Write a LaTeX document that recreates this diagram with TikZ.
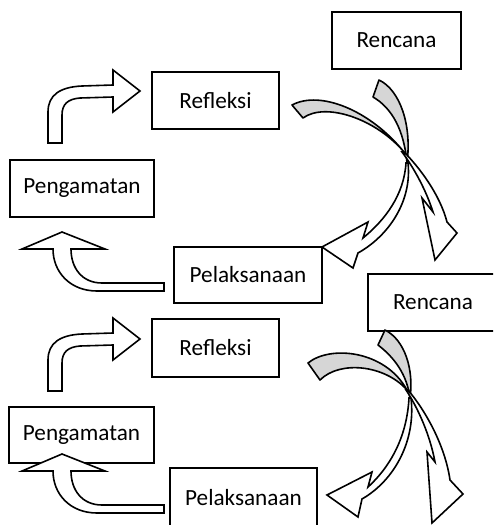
\documentclass[tikz,border=0pt]{standalone}
\usepackage{fontspec}
\setmainfont{Carlito}
\tikzset{
  boxnode/.style={draw, line width=0.95pt, rectangle, inner sep=0pt,
    font=\fontsize{11.6}{13}\selectfont, fill=white},
  blockarrow/.style={draw, line width=0.8pt, fill=white, line join=miter},
  twistpart/.style={draw, line width=0.8pt, fill=gray!32, line join=round},
  frontpart/.style={draw, line width=0.8pt, fill=white, line join=miter}
}
\begin{document}
\begin{tikzpicture}[x=0.5pt, y=-0.5pt]
\useasboundingbox (0,0) rectangle (493,525);
\clip (0,0) rectangle (493,525);
\fill[white] (0,0) rectangle (493,525);

% boxes
\node[boxnode, minimum width=64.5pt, minimum height=28.5pt] (R1) at (396.5,40.5) {Rencana};
\node[boxnode, minimum width=63.5pt, minimum height=28.5pt] (F1) at (215.5,100.5) {Refleksi};
\node[boxnode, minimum width=72pt, minimum height=28.5pt] (P1) at (82,188.5) {Pengamatan};
\node[boxnode, minimum width=74pt, minimum height=28pt] (L1) at (248,275) {Pelaksanaan};
\node[boxnode, minimum width=65pt, minimum height=28.5pt] (R2) at (433,302.5) {Rencana};
\node[boxnode, minimum width=63.5pt, minimum height=29pt] (F2) at (215.5,348) {Refleksi};
\node[boxnode, minimum width=72.5pt, minimum height=28pt] (P2) at (81.5,435) {Pengamatan};
\node[boxnode, minimum width=73.5pt, minimum height=29.5pt] (L2) at (243.5,497.5) {Pelaksanaan};

% bent arrows: Pengamatan -> Refleksi
\foreach \dy in {0,248}{
  \begin{scope}[yshift=-\dy*0.5pt]
  \draw[blockarrow] (48,143) -- (48,112) .. controls (48,95) and (60,87) .. (82,86)
    -- (113,85) -- (113,70) -- (140,91) -- (113,112) -- (113,97) -- (80,98)
    .. controls (68,99) and (62,104) .. (62,115) -- (62,143) -- cycle;
  \end{scope}
}

% curved up arrows: Pelaksanaan -> Pengamatan
\foreach \dy in {0,222}{
  \begin{scope}[yshift=-\dy*0.5pt]
  \draw[blockarrow] (62,232) -- (105,249) -- (71,249)
    .. controls (71,268) and (82,283) .. (102,283) -- (164,283) -- (164,291)
    -- (97,291) .. controls (70,291) and (53,272) .. (53,249) -- (22,249) -- cycle;
  \end{scope}
}

% ---- right twisted arrows, upper pair ----
% B1: Rencana -> Pelaksanaan
\draw[frontpart] (408,163) .. controls (412,200) and (390,235) .. (358,253)
  -- (353,268) -- (322,247) -- (368,222) -- (363,238)
  .. controls (385,220) and (404,195) .. (406,163) -- cycle;
\draw[twistpart] (373,97) .. controls (392,108) and (404,130) .. (407,163)
  .. controls (412,125) and (400,90) .. (379,80) -- cycle;
% A1: Refleksi -> Rencana
\draw[frontpart] (404,152) .. controls (420,168) and (440,195) .. (447,222)
  -- (457,233) -- (435,260) -- (422,198) -- (433,212)
  .. controls (426,190) and (414,168) .. (402,152) -- cycle;
\draw[twistpart] (292,105) .. controls (320,90) and (370,110) .. (404,152)
  .. controls (375,118) and (325,102) .. (303,118) -- cycle;

% ---- right twisted arrows, lower pair ----
% B2
\draw[frontpart] (411,398) .. controls (416,440) and (395,480) .. (362,499)
  -- (358,517) -- (327,495) -- (372,472) -- (368,487)
  .. controls (392,465) and (407,435) .. (409,398) -- cycle;
\draw[twistpart] (378,345) .. controls (395,358) and (407,375) .. (410,398)
  .. controls (414,370) and (405,340) .. (385,330) -- cycle;
% A2
\draw[frontpart] (408,390) .. controls (425,410) and (445,445) .. (450,480)
  -- (463,494) -- (432,523) -- (427,452) -- (435,462)
  .. controls (430,435) and (418,408) .. (406,390) -- cycle;
\draw[twistpart] (308,363) .. controls (330,345) and (385,350) .. (407,390)
  .. controls (385,365) and (340,360) .. (320,380) -- cycle;
\end{tikzpicture}
\end{document}
